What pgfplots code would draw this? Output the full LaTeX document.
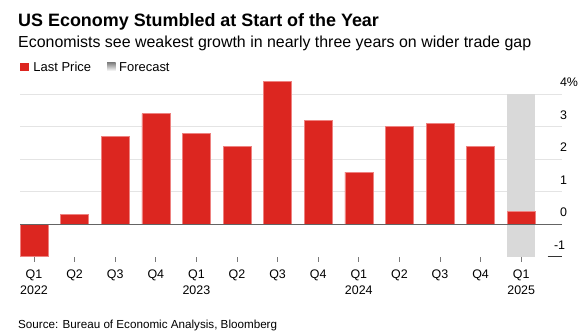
\documentclass[border=0pt]{standalone}
\usepackage{fontspec}
\setmainfont{Liberation Sans}
\usepackage{pgfplots}
\pgfplotsset{compat=1.18}
\definecolor{bbred}{RGB}{220,38,32}
\definecolor{bbedge}{RGB}{238,130,128}
\definecolor{shade}{RGB}{217,217,217}
\definecolor{gridc}{RGB}{228,228,228}
\definecolor{zeroc}{RGB}{100,100,100}
\definecolor{tickc}{RGB}{120,120,120}
\begin{document}
\begin{tikzpicture}[x=1bp,y=1bp]
\useasboundingbox (0,0) rectangle (583,331);
% titles
\node[anchor=base west, inner sep=0pt] at (18,305) {\fontsize{18}{20}\selectfont\bfseries US Economy Stumbled at Start of the Year};
\node[anchor=base west, inner sep=0pt] at (18,283.3) {\fontsize{16}{18}\selectfont Economists see weakest growth in nearly three years on wider trade gap};
% legend
\fill[bbred] (20,260) rectangle (28.5,268.5);
\node[anchor=base west, inner sep=0pt] at (33.3,260) {\fontsize{13}{15}\selectfont Last Price};
\fill[shade] (107,260) rectangle (115.5,268.5);
\node[anchor=base west, inner sep=0pt] at (119,260) {\fontsize{13}{15}\selectfont Forecast};
% source
\node[anchor=base west, inner sep=0pt] at (18,3) {\fontsize{11.7}{14}\selectfont Source: Bureau of Economic Analysis, Bloomberg};
\begin{axis}[
  at={(20bp,74.5bp)}, anchor=south west,
  scale only axis, width=541.8bp, height=177.1bp,
  xmin=-0.345, xmax=13, ymin=-1, ymax=4.45,
  axis line style={draw=none},
  xtick={0,...,12},
  xticklabels={{Q1\\2022},Q2,Q3,Q4,{Q1\\2023},Q2,Q3,Q4,{Q1\\2024},Q2,Q3,Q4,{Q1\\2025}},
  xticklabel style={align=center, font=\fontsize{12.5}{16}\selectfont, inner sep=0pt, anchor=north, yshift=-8bp},
  xtick pos=bottom, tick align=outside,
  major tick length=5bp,
  xtick style={draw=tickc, line width=1bp},
  ytick={0,1,2,3,4},
  yticklabels={0,1,2,3,4\%},
  extra y ticks={-1},
  extra y tick labels={-1},
  extra y tick style={grid=none, yticklabel style={xshift=-6bp}},
  ytick style={draw=none},
  yticklabel pos=right,
  yticklabel style={anchor=base west, inner sep=0pt, xshift=-7bp, yshift=7.5bp, font=\fontsize{12.5}{15}\selectfont},
  ymajorgrids, grid style={draw=gridc, line width=1bp},
  clip=false,
]
\addplot[fill=shade, draw=none] coordinates {(11.655,-1) (12.345,-1) (12.345,4) (11.655,4)} -- cycle;
\addplot[ybar, bar width=0.69, fill=bbred, draw=bbedge, line width=0.6bp] coordinates {
(0,-1.0) (1,0.3) (2,2.7) (3,3.4) (4,2.8) (5,2.4) (6,4.4) (7,3.2) (8,1.6) (9,3.0) (10,3.1) (11,2.4) (12,0.4)};
\draw[zeroc, line width=1bp] (axis cs:-0.345,0) -- (axis cs:13,0);
\draw[black!80, line width=1bp] (axis cs:12.65,-1) -- (axis cs:13,-1);
\end{axis}
\end{tikzpicture}
\end{document}
